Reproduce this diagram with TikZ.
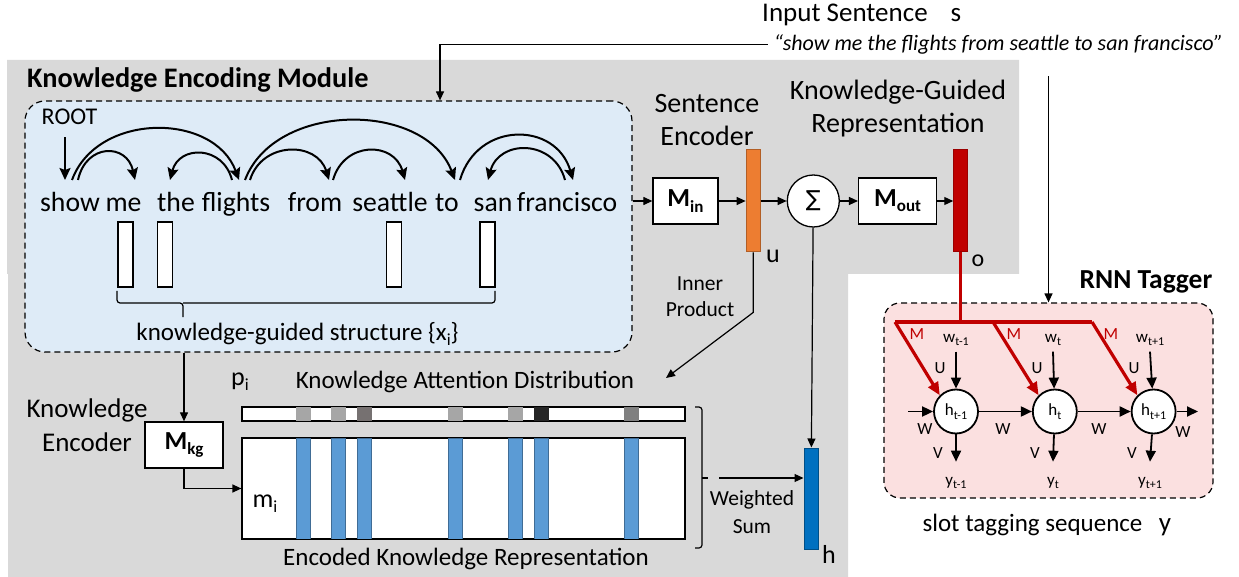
\documentclass[tikz,border=0pt]{standalone}
\usepackage{fontspec}
\setmainfont{Carlito}
\newfontfamily\sigmafont{DejaVu Sans}
\usetikzlibrary{positioning,arrows.meta}

\definecolor{bggray}{HTML}{D9D9D9}
\definecolor{kblue}{HTML}{DEEBF7}
\definecolor{rnnpink}{RGB}{251,224,224}
\definecolor{uorange}{HTML}{ED7D31}
\definecolor{kred}{HTML}{C00000}
\definecolor{hblue}{HTML}{0070C0}
\definecolor{mblue}{HTML}{5B9BD5}
\definecolor{gL}{HTML}{A6A6A6}
\definecolor{gM}{HTML}{808080}
\definecolor{gD}{HTML}{767171}
\definecolor{gK}{HTML}{262626}

\newcommand{\fsz}[2]{\fontsize{#1}{#2}\selectfont}
\newcommand{\sbs}[2]{\raisebox{-0.2em}{\fontsize{#1}{#1}\selectfont #2}}

\begin{document}
\begin{tikzpicture}[x=1pt,y=-1pt,
		every node/.style={inner sep=0pt},
		arr/.style={-{Triangle[length=9pt,width=8pt]},line width=1.2pt},
		rarr/.style={-{Triangle[length=11pt,width=10pt]},line width=1.8pt},
		deparc/.style={-{Stealth[length=12pt,width=11pt,inset=2pt]},line width=2pt},
		redarr/.style={-{Triangle[length=13pt,width=11pt]},line width=3.2pt,draw=kred},
		word/.style={font=\fsz{27.7}{33},text height=20.8pt,text depth=7pt,inner ysep=11pt,anchor=base},
		mbox/.style={draw,fill=white,line width=1.3pt,minimum height=46pt,font=\fsz{26}{30}},
		vec/.style={draw,line width=1pt,minimum width=14pt,minimum height=102pt},
		xbar/.style={draw,fill=white,line width=1.2pt,minimum width=15pt,minimum height=65pt},
		dashbox/.style={draw,dash pattern=on 6pt off 4pt,line width=1.2pt,rounded corners=20pt},
		hnode/.style={circle,draw,fill=white,line width=1.8pt,minimum size=44pt,font=\fsz{17}{20}},
		lbl/.style={font=\fsz{28}{33},align=center},
		small/.style={font=\fsz{21.5}{26},align=center},
		rlbl/.style={font=\fsz{17}{20},anchor=base}]
	\useasboundingbox (0,0) rectangle (1239,577);
	\fill[bggray] (7,60) -- (1019,60) -- (1019,274) -- (848,274) -- (848,577) -- (8,577) -- (8,274) -- (7,274) -- cycle;
	
	% knowledge encoding module
	\node[dashbox,fill=kblue,minimum width=607pt,minimum height=251pt] (kbox) at (328.5,226.5) {};
	\node[font=\bfseries\fsz{28.3}{33},anchor=base west] (ktitle) at (27,88) {Knowledge Encoding Module};
	\node[font=\fsz{24}{28},anchor=base] (root) at (69.5,125) {ROOT};
	
	\node[word] (show) at (70,212) {show};
	\node[word] (me) at (123.5,212) {me};
	\node[word] (the) at (176,212) {the};
	\node[word] (flights) at (236,212) {flights};
	\node[word] (from) at (315,212) {from};
	\node[word] (seattle) at (390,212) {seattle};
	\node[word] (to) at (447,212) {to};
	\node[word] (san) at (493,212) {san};
	\node[word] (francisco) at (567,212) {francisco};
	
	\draw[deparc] ([xshift=-4.5pt,yshift=-12pt]root.south) -- ([xshift=-5pt]show.north);
	\draw[deparc] ([xshift=8pt]show.north) .. controls +(8,-37) and +(-8,-37) .. ([xshift=11.5pt]me.north);
	\draw[deparc] ([xshift=2pt]show.north) .. controls +(25,-68) and +(-25,-68) .. ([xshift=3pt]flights.north);
	\draw[deparc] ([xshift=-4pt]flights.north) .. controls +(-9,-35) and +(9,-35) .. ([xshift=-6pt]the.north);
	\draw[deparc] ([xshift=14pt]flights.north) .. controls +(12,-39) and +(-12,-39) .. ([xshift=14pt]from.north);
	\draw[deparc] ([xshift=9pt]flights.north) .. controls +(30,-79) and +(-30,-79) .. ([xshift=8pt]to.north);
	\draw[deparc] ([xshift=18pt]from.north) .. controls +(11,-39) and +(-11,-39) .. ([xshift=15pt]seattle.north);
	\draw[deparc] ([xshift=13pt]to.north) .. controls +(17,-59) and +(-17,-59) .. ([xshift=6pt]francisco.north);
	\draw[deparc] ([xshift=-2pt]francisco.north) .. controls +(-11,-41) and +(11,-41) .. ([xshift=-5pt]san.north);
	
	\node[xbar] (x1) at (125.5,254.5) {};
	\node[xbar] (x2) at (165,254.5) {};
	\node[xbar] (x3) at (394,254.5) {};
	\node[xbar] (x4) at (487.5,254.5) {};
	\draw[line width=1.2pt,rounded corners=3pt] (117,291) |- (183,303) -- (183,317);
	\draw[line width=1.2pt,rounded corners=3pt] (183,303) -| (495,291);
	\node[font=\fsz{25}{30},anchor=base] (kgs) at (297.5,340) {knowledge-guided structure \{x\sbs{17}{i}\}};
	
	% sentence encoder and output
	\node[mbox,minimum width=65pt] (min) at (685.5,201) {\textbf{M}\sbs{17}{\textbf{in}}};
	\node[vec,fill=uorange,draw=uorange!75!black,right=27pt of min] (ubar) {};
	\node[circle,draw,fill=white,line width=1.3pt,minimum size=52pt,right=26pt of ubar] (sigma) {\sigmafont\fsz{22}{26}∑};
	\node[mbox,minimum width=78pt,right=18pt of sigma] (mout) {\textbf{M}\sbs{17}{\textbf{out}}};
	\node[vec,fill=kred,draw=kred!80!black,right=16pt of mout] (obar) {};
	\draw[arr] (kbox.east |- min) -- (min);
	\draw[arr] (min) -- (ubar);
	\draw[arr] (ubar) -- (sigma);
	\draw[arr] (sigma) -- (mout);
	\draw[arr] (mout) -- (obar);
	\node[lbl] (senc) at (707,120) {Sentence\\Encoder};
	\node[lbl] (kgr) at (898,109) {Knowledge-Guided\\Representation};
	\node[font=\fsz{26}{30},anchor=base] (ulbl) at (773,262) {u};
	\node[font=\fsz{24}{30},anchor=base] (olbl) at (978,267) {o};
	
	\coordinate (ipend) at (666,378);
	\draw[arr] (ubar.south) -- ++(0,60) -- (ipend);
	\node[small] (inner) at (700,297) {Inner\\Product};
	
	% attention and memory
	\node[font=\fsz{26}{30},anchor=base] (plbl) at (240,385) {p\sbs{17}{i}};
	\node[font=\fsz{25}{30},anchor=base] (attn) at (465,388) {Knowledge Attention Distribution};
	\node[draw,fill=white,line width=1.2pt,minimum width=443pt,minimum height=14pt] (pbar) at (463.5,414) {};
	\foreach \x/\c in {296/gL,331/gL,357/gD,448/gL,508/gL,534/gK,624/gM}
		\fill[\c] (\x,407) rectangle ++(14.5,14);
	\draw[line width=1.2pt] (pbar.north west) rectangle (pbar.south east);
	
	\node[draw,fill=white,line width=1.2pt,minimum width=443pt,minimum height=101pt] (mmat) at (463.5,488.5) {};
	\foreach \x in {296,331,357,448,508,534,624}
		\fill[mblue,draw=mblue!70!black,line width=0.6pt] (\x,438) rectangle ++(14.5,101);
	\draw[line width=1.2pt] (mmat.north west) rectangle (mmat.south east);
	\node[font=\fsz{26}{30},anchor=base] (mlbl) at (265,507) {m\sbs{17}{i}};
	\node[font=\fsz{25}{30},anchor=base] (enc) at (466,565) {Encoded Knowledge Representation};
	
	\node[mbox,minimum width=78pt] (mkg) at (184,445) {\textbf{M}\sbs{17}{\textbf{kg}}};
	\node[lbl,font=\fsz{27}{34}] (kenc) at (87,425) {Knowledge\\Encoder};
	\draw[arr] (kbox.south -| mkg) -- (mkg);
	\draw[arr] (mkg) |- (mmat);
	
	\node[vec,fill=hblue,draw=hblue!70!black,minimum height=101pt] (hbar) at (811,498.5) {};
	\draw[arr] (sigma) -- (hbar);
	\node[font=\fsz{26}{30},anchor=base] (hlbl) at (829,563) {h};
	\draw[line width=1.2pt,rounded corners=3pt] (695,407) -| (702,548) -- (695,548);
	\draw[line width=1.2pt] (702,478) -- (708,478);
	\coordinate (wsum) at (719,478);
	\draw[arr] (wsum) -- (wsum -| hbar.west);
	\node[small,font=\fsz{21.5}{28}] (wlbl) at (752,512) {Weighted\\Sum};
	
	% input sentence
	\node[font=\fsz{27}{32},anchor=base west] (insent) at (762,22) {Input Sentence};
	\node[font=\fsz{27}{32},anchor=base] (slbl) at (956,22) {s};
	\node[font=\itshape\fsz{22}{26},anchor=base] (quote) at (998.5,50.5) {“show me the flights from seattle to san francisco”};
	\draw[arr] ([xshift=-6pt]quote.west) -| ([xshift=111.5pt]kbox.north);
	
	% rnn tagger
	\node[dashbox,fill=rnnpink,rounded corners=16pt,minimum width=329pt,minimum height=195pt] (rnn) at (1048.5,400.5) {};
	\node[font=\bfseries\fsz{27.5}{33},anchor=base] (rnntitle) at (1146,288) {RNN Tagger};
	\draw[arr] ([yshift=-22pt]quote.south -| rnn.north) -- (rnn.north);
	
	\node[hnode] (h1) at (956,411.5) {h\sbs{12}{t-1}};
	\node[hnode,right=53pt of h1] (h2) {h\sbs{12}{t}};
	\node[hnode,right=53pt of h2] (h3) {h\sbs{12}{t+1}};
	\foreach \i/\x/\t in {1/956/t-1,2/1053/t,3/1150/t+1} {
		\node[rlbl] (w\i) at (\x,342) {w\sbs{12}{\t}};
		\node[rlbl] (y\i) at (\x,485) {y\sbs{12}{\t}};
		\node[rlbl] (u\i) at (\x-16,373) {U};
		\node[rlbl] (v\i) at (\x-18,458) {V};
		\node[rlbl,text=kred] (mm\i) at (\x-39,339) {M};
		\draw[rarr] ([yshift=-6pt]w\i.south) -- (h\i);
		\draw[rarr] (h\i) -- ([yshift=15pt]y\i.north);
	}
	\coordinate (hin) at (908,411.5);
	\coordinate (hout) at (1198,411.5);
	\draw[rarr] (hin) -- (h1);
	\draw[rarr] (h1) -- (h2);
	\draw[rarr] (h2) -- (h3);
	\draw[rarr] (h3) -- (hout);
	\node[rlbl] (wa) at (925,434) {W};
	\node[rlbl] (wb) at (1003,434) {W};
	\node[rlbl] (wc) at (1099,434) {W};
	\node[rlbl] (wd) at (1183,437) {W};
	
	\coordinate (m1) at (895,322);
	\coordinate (m2) at (993,322);
	\coordinate (m3) at (1092,322);
	\draw[kred,line width=3.2pt] (obar.south) -- (obar.south |- m1);
	\draw[kred,line width=3.2pt] (m1) -- (m3);
	\draw[redarr] (m1) -- (h1.north west);
	\draw[redarr] (m2) -- (h2.north west);
	\draw[redarr] (m3) -- (h3.north west);
	
	\node[font=\fsz{25}{30},anchor=base] (slot) at (1032.5,531) {slot tagging sequence};
	\node[font=\fsz{27}{30},anchor=base] (ylbl) at (1165,531) {y};
\end{tikzpicture}
\end{document}
